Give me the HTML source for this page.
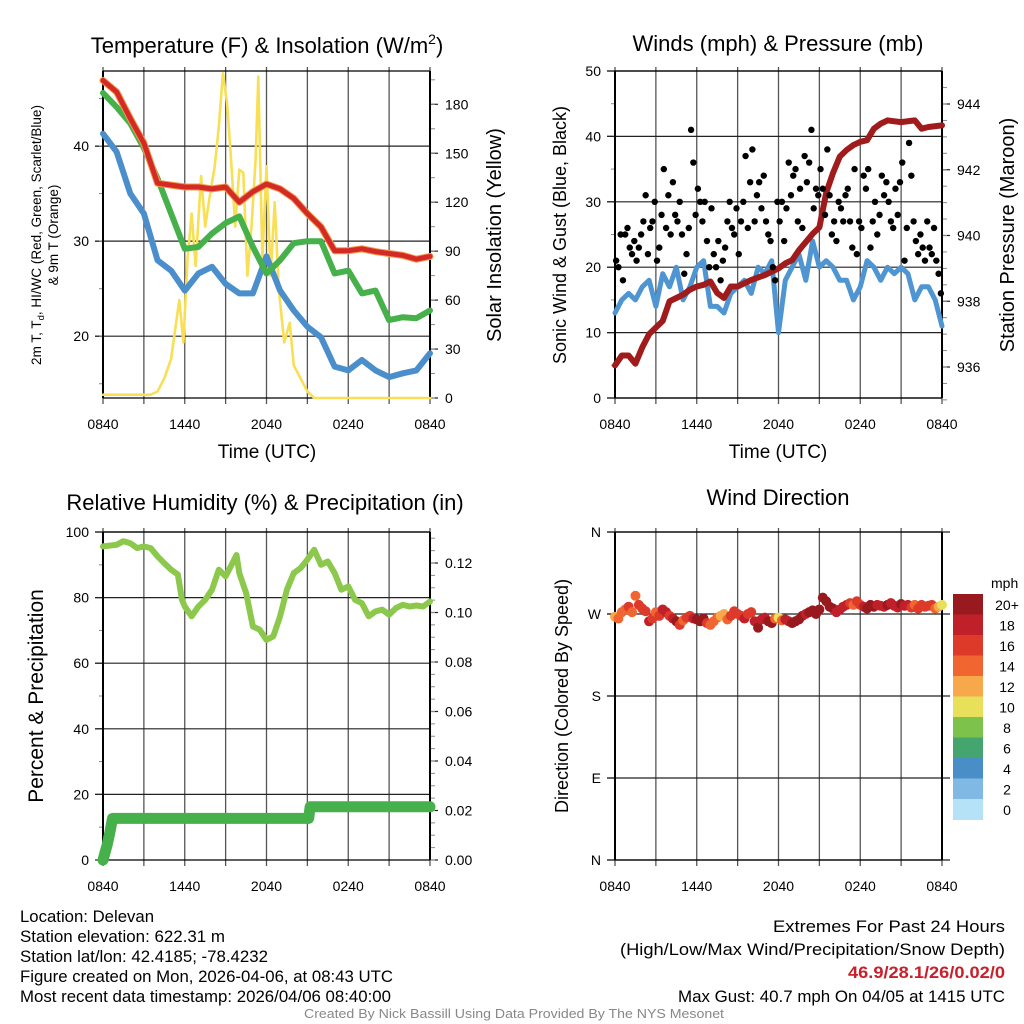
<!DOCTYPE html>
<html><head><meta charset="utf-8">
<style>
body{margin:0;background:#fff;}
svg{display:block;font-family:"Liberation Sans",sans-serif;}
.nar{font-family:"Liberation Sans Narrow","Liberation Sans",sans-serif;}
</style></head>
<body>
<svg id="chart" width="1024" height="1024" viewBox="0 0 1024 1024" xmlns="http://www.w3.org/2000/svg">
<g id="static">
<text x="267" y="53" font-size="22" text-anchor="middle">Temperature (F) &amp; Insolation (W/m<tspan font-size="14" dy="-9">2</tspan><tspan dy="9">)</tspan></text>
<text x="778" y="51" font-size="22" text-anchor="middle">Winds (mph) &amp; Pressure (mb)</text>
<text x="265" y="510" font-size="22" text-anchor="middle">Relative Humidity (%) &amp; Precipitation (in)</text>
<text x="778" y="505" font-size="22" text-anchor="middle">Wind Direction</text>

<text transform="translate(41,235) rotate(-90)" font-size="13.5" text-anchor="middle">2m T, T<tspan font-size="9.5" dy="3">d</tspan><tspan dy="-3">, HI/WC (Red, Green, Scarlet/Blue)</tspan></text>
<text transform="translate(58,235) rotate(-90)" font-size="13.5" text-anchor="middle">&amp; 9m T (Orange)</text>
<text transform="translate(501,235) rotate(-90)" font-size="20" text-anchor="middle">Solar Insolation (Yellow)</text>
<text x="267" y="458" font-size="19" text-anchor="middle">Time (UTC)</text>
<text transform="translate(566,235) rotate(-90)" font-size="18" text-anchor="middle">Sonic Wind &amp; Gust (Blue, Black)</text>
<text transform="translate(1014,235) rotate(-90)" font-size="20" text-anchor="middle">Station Pressure (Maroon)</text>
<text x="778" y="458" font-size="19" text-anchor="middle">Time (UTC)</text>
<text transform="translate(43,696) rotate(-90)" font-size="21" text-anchor="middle">Percent &amp; Precipitation</text>
<text transform="translate(568,696) rotate(-90)" font-size="18" text-anchor="middle">Direction (Colored By Speed)</text>

<g class="nar" font-size="17">
<text x="20" y="922" textLength="134" lengthAdjust="spacingAndGlyphs">Location: Delevan</text>
<text x="20" y="942" textLength="205" lengthAdjust="spacingAndGlyphs">Station elevation: 622.31 m</text>
<text x="20" y="962" textLength="248" lengthAdjust="spacingAndGlyphs">Station lat/lon: 42.4185; -78.4232</text>
<text x="20" y="982" textLength="373" lengthAdjust="spacingAndGlyphs">Figure created on Mon, 2026-04-06, at 08:43 UTC</text>
<text x="20" y="1002" textLength="371" lengthAdjust="spacingAndGlyphs">Most recent data timestamp: 2026/04/06 08:40:00</text>
</g>
<g class="nar" font-size="17">
<text x="773" y="932" textLength="232" lengthAdjust="spacingAndGlyphs">Extremes For Past 24 Hours</text>
<text x="620" y="955" textLength="385" lengthAdjust="spacingAndGlyphs">(High/Low/Max Wind/Precipitation/Snow Depth)</text>
<text x="848" y="978" textLength="157" lengthAdjust="spacingAndGlyphs" fill="#c8202a" font-weight="bold">46.9/28.1/26/0.02/0</text>
<text x="678" y="1002" textLength="327" lengthAdjust="spacingAndGlyphs">Max Gust: 40.7 mph On 04/05 at 1415 UTC</text>
</g>
<text class="nar" x="304" y="1018" font-size="12.5" fill="#888" textLength="420" lengthAdjust="spacingAndGlyphs">Created By Nick Bassill Using Data Provided By The NYS Mesonet</text>
</g>
<g id="dyn"></g>
</svg>
<script>
// ---------- data ----------
const xTickLabels = ["0840","1440","2040","0240","0840"];
const tempHours = [0,1,2,3,4,5,6,7,8,9,10,11,12,13,14,15,16,17,18,19,20,21,22,23,24];
const airTemp = [46.9,45.7,42.9,40.3,36.1,35.9,35.7,35.7,35.5,35.7,34.1,35.2,36.0,35.5,34.5,32.9,31.5,29.0,29.0,29.2,28.9,28.7,28.5,28.1,28.4];
const windChill = [45.6,44.1,42.4,39.8,36.6,32.9,29.2,29.4,30.8,31.9,32.6,29.4,26.6,28.0,29.8,30.0,30.0,26.6,26.9,24.5,24.8,21.7,22.0,21.9,22.7];
const dewPoint = [41.3,39.4,35.0,32.9,28.0,26.9,24.8,26.6,27.3,25.5,24.5,24.5,28.4,24.8,22.7,21.0,19.9,16.8,16.4,17.5,16.4,15.7,16.1,16.4,18.2];
const tempTicks = [20,30,40];
const solarTicks = [0,30,60,90,120,150,180];
const solarHours = [0,3.5,4,4.5,5,5.6,5.9,6.2,6.5,6.8,7.2,7.5,7.8,8.2,8.5,8.8,9.1,9.4,9.7,10,10.3,10.6,10.9,11.2,11.4,11.7,12,12.3,12.6,12.9,13.3,13.7,14,14.5,15,15.5,24];
const solarVals = [2,2,4,12,24,60,34,85,113,81,136,105,122,142,166,199,181,146,105,140,138,75,105,146,197,85,142,75,120,67,34,46,20,12,4,0,0];

const windHours = [0,0.5,1,1.5,2,2.5,3,3.5,4,4.5,5,5.5,6,6.5,7,7.5,8,8.5,9,9.5,10,10.5,11,11.5,12,12.5,13,13.5,14,14.5,15,15.5,16,16.5,17,17.5,18,18.5,19,19.5,20,20.5,21,21.5,22,22.5,23,23.5,24];
const windSpeed = [13,15,16,15,17,18,14,19,17,20,15,17,20,21,14,14,13,16,17,18,16,20,19,21,10,18,20,22,18,24,20,21,20,18,18,15,17,21,20,18,20,19,20,19,15,17,17,15,11];
const gustVals = [21,20,25,18,25,26, 23,22,24,21,23,25, 27,31,22,26,27,30, 21,23,28,35,26,31, 25,33,28,27,30,25, 19,22,26,41,36,28, 32,30,27,30,24,20, 29,22,20,24,18,21, 23,27,30,26,25,29, 22,27,30,37,26,33, 38,27,31,33,29,34, 27,25,24,20,18,30, 27,30,24,29,36,31, 34,35,27,32,26,37, 33,36,41,29,32,31, 35,32,28,38,31,25, 27,24,30,29,27,31, 32,27,23,35,22,27, 26,34,32,35,23,27, 30,25,28,34,31,33, 30,27,26,32,28,33, 36,21,26,39,34,27, 24,22,25,23,21,27, 23,22,26,21,19,16];
const pressHours = [0,0.5,1,1.5,2,2.5,3,3.5,4,4.5,5,5.5,6,6.5,7,7.5,8,8.5,9,10,11,12,12.5,13,13.5,14,14.5,15,15.5,16,16.5,17,17.5,18,18.5,19,19.5,20,21,22,22.5,23,24];
const pressVals = [936.05,936.35,936.35,936.1,936.6,937.0,937.2,937.4,938.0,938.1,938.2,938.35,938.45,938.5,938.6,938.25,938.1,938.45,938.45,938.65,938.8,939.0,939.15,939.25,939.55,939.8,940.05,940.25,941.3,941.9,942.4,942.6,942.75,942.85,942.9,943.25,943.4,943.5,943.45,943.5,943.25,943.3,943.35];
const windTicks = [0,10,20,30,40,50];
const pressTicks = [936,938,940,942,944];

const rhHours = [0,1,1.5,2,2.5,3,3.5,4,4.5,5,5.5,5.8,6,6.5,7,7.5,8,8.5,9,9.5,9.8,10,10.5,11,11.5,12,12.5,13,13.5,14,14.5,15,15.5,16,16.5,17,17.5,18,18.5,19,19.5,20,20.5,21,21.5,22,22.5,23,23.5,24];
const rhVals = [95.6,96.1,97.2,96.6,95.1,95.6,95.1,92.6,90.5,88.5,87,79.3,77.3,74.3,77.3,79.3,82.4,88.5,86.5,90.5,93,87.5,81.4,71.2,70.2,67.1,68.2,74.3,82.4,87.5,89,91.6,94.6,90,91,87.5,82.4,83.4,79.3,78.3,74.3,75.8,76.3,74.8,76.8,77.8,77.3,77.6,77.3,78.8];
const precipHours = [0,0.3,0.5,0.7,15.1,15.2,24];
const precipVals = [0,0.006,0.011,0.0168,0.0168,0.0215,0.0215];
const rhTicks = [0,20,40,60,80,100];
const precipTicks = [0,0.02,0.04,0.06,0.08,0.10,0.12];
const precipLabels = ["0.00","0.02","0.04","0.06","0.08","0.10","0.12"];

const dirVals = [267,265,272,275, 278,272,290,280, 276,273,262,265, 272,268,275,272, 268,265,262,258, 263,266,268,265, 264,262,265,260, 258,262,266,268, 270,264,268,273, 270,268,265,270, 272,262,255,264, 266,262,260,265, 266,263,264,262, 260,262,264,268, 270,272,274,270, 275,288,284,278, 276,272,275,278, 280,282,280,284, 280,278,276,280, 278,280,279,278, 280,282,279,277, 281,279,280,277, 280,276,280,278, 279,280,276,278, 280];
const dirTicks = [0,90,180,270,360];
const dirLabels = ["N","E","S","W","N"];
const speedBins = ["0","2","4","6","8","10","12","14","16","18","20+"];
const speedColors = ["#b5e2f7","#7fb9e4","#4a8ec8","#45a56f","#7dc24b","#e8e05a","#f7a84a","#f06530","#dd3a2a","#c0202a","#981a1e"];

// ---------- helpers ----------
const NS="http://www.w3.org/2000/svg";
const dyn=document.getElementById('dyn');
function mk(tag,attrs,parent){const e=document.createElementNS(NS,tag);for(const k in attrs)e.setAttribute(k,attrs[k]);(parent||dyn).appendChild(e);return e;}
function panel(x0,x1,y0,y1){return {x0,x1,y0,y1,xs:h=>x0+h/24*(x1-x0)};}
function lin(d0,d1,p0,p1){return v=>p0+(v-d0)/(d1-d0)*(p1-p0);}
function frame(P,name,leftTicks,leftLabels,ly,rightTicks,rightLabels,ry,leftMinor,rightMinor,gridTicks){
  const g=mk('g',{});
  
  
  for(let i=0;i<=8;i++){const x=P.xs(i*3);
    const l=mk('line',{x1:x,x2:x,y1:P.y0-4,y2:P.y1+6,stroke:'#555','stroke-width':1.3},g);
    
    }
  xTickLabels.forEach((t,i)=>{const tx=mk('text',{x:P.xs(i*6),y:P.y1+31,'font-size':14,'text-anchor':'middle'},g);tx.textContent=t;
    
    });
  gridTicks.forEach(v=>{const y=ly(v);mk('line',{x1:P.x0-8,x2:P.x1+(rightTicks?0:8),y1:y,y2:y,stroke:'#222','stroke-width':1.2},g);});
  leftTicks.forEach((v,i)=>{const y=ly(v);mk('line',{x1:P.x0-8,x2:P.x0,y1:y,y2:y,stroke:'#222','stroke-width':1.2},g);
    const t=mk('text',{x:P.x0-14,y:y+5,'font-size':14,'text-anchor':'end'},g);t.textContent=leftLabels[i];
    
    });
  leftMinor.forEach(v=>{const y=ly(v);mk('line',{x1:P.x0-4,x2:P.x0,y1:y,y2:y,stroke:'#888','stroke-width':1},g);});
  if(rightTicks){
    rightTicks.forEach((v,i)=>{const y=ry(v);mk('line',{x1:P.x1,x2:P.x1+8,y1:y,y2:y,stroke:'#222','stroke-width':1.2},g);
      const t=mk('text',{x:P.x1+15,y:y+5,'font-size':14},g);t.textContent=rightLabels[i];
      
      });
    rightMinor.forEach(v=>{const y=ry(v);mk('line',{x1:P.x1,x2:P.x1+5,y1:y,y2:y,stroke:'#888','stroke-width':1},g);});
  }
  mk('line',{x1:P.x0,x2:P.x0,y1:P.y0,y2:P.y1,stroke:'#000','stroke-width':2},g);
  mk('line',{x1:P.x1,x2:P.x1,y1:P.y0,y2:P.y1,stroke:'#000','stroke-width':2},g);
  mk('line',{x1:P.x0,x2:P.x1,y1:P.y0,y2:P.y0,stroke:'#000','stroke-width':1.3},g);
  mk('line',{x1:P.x0,x2:P.x1,y1:P.y1,y2:P.y1,stroke:'#000','stroke-width':1.3},g);
}
function path(P,hs,vs,ys,color,w,name){
  let d='';hs.forEach((h,i)=>{const x=P.xs(h),y=ys(vs[i]);d+=(i?'L':'M')+x.toFixed(1)+' '+y.toFixed(1);});
  const p=mk('path',{d,fill:'none',stroke:color,'stroke-width':w,'stroke-linejoin':'round','stroke-linecap':'round'});
  
  
  return p;
}
function range(a,b,s){const r=[];for(let v=a;v<=b+1e-9;v+=s)r.push(+v.toFixed(4));return r;}

// ---------- panel 1: temperature ----------
const P1=panel(103,430,71,398);
const tY=lin(13.5,47.9,398,71), sY=lin(0,180,398,104.3);
frame(P1,'temp',tempTicks,tempTicks.map(String),tY,solarTicks,solarTicks.map(String),sY,range(15,45,5),range(0,195,15),tempTicks);
path(P1,solarHours,solarVals,sY,'#f8df55',2.6,'solar-line');
path(P1,tempHours,dewPoint,tY,'#4a8fcb',6,'dewpoint-line');
path(P1,tempHours,windChill,tY,'#46b04a',6,'windchill-line');
path(P1,tempHours,airTemp,tY,'#f39a4a',7,'9m-temp-line');
path(P1,tempHours,airTemp,tY,'#d42a26',5,'air-temp-line');

// ---------- panel 2: winds ----------
const P2=panel(615,942,71,398);
const wY=lin(0,50,398,71), pY=lin(936,944,367,104);
frame(P2,'wind',windTicks,windTicks.map(String),wY,pressTicks,pressTicks.map(String),pY,range(5,45,10),range(935,944.5,0.5),windTicks);
path(P2,windHours,windSpeed,wY,'#4e95d2',5,'wind-speed-line');
path(P2,pressHours,pressVals,pY,'#a01c1c',6,'pressure-line');
gustVals.forEach((v,i)=>{const c=mk('circle',{cx:P2.xs(i/6+1/12),cy:wY(v),r:3.2,fill:'#000'});
  
  });

// ---------- panel 3: RH ----------
const P3=panel(103,430,532,860);
const rY=lin(0,100,860,532), qY=lin(0,0.12,860,563);
frame(P3,'rh',rhTicks,rhTicks.map(String),rY,precipTicks,precipLabels,qY,range(10,90,20),range(0,0.13,0.005),rhTicks.slice(1));
path(P3,rhHours,rhVals,rY,'#8cc84b',6,'rh-line');
path(P3,precipHours,precipVals,qY,'#46b04a',11,'precip-line');

// ---------- panel 4: direction ----------
const P4=panel(615,942,532,860);
const dY=lin(0,360,860,532);
frame(P4,'dir',dirTicks,dirLabels,dY,null,null,null,[],[],dirTicks);
function interp(hs,vs,h){for(let i=1;i<hs.length;i++){if(h<=hs[i]){const t=(h-hs[i-1])/(hs[i]-hs[i-1]);return vs[i-1]+t*(vs[i]-vs[i-1]);}}return vs[vs.length-1];}
dirVals.forEach((v,i)=>{const h=i*0.25;const s=interp(windHours,windSpeed,h);
  const idx=Math.min(10,Math.max(0,Math.floor(s/2)));
  const c=mk('circle',{cx:P4.xs(h),cy:dY(v),r:5,fill:speedColors[idx]});
  
  });
// colorbar
const cb=mk('g',{});


const cbTop=594,cbH=20.5;
speedBins.forEach((b,i)=>{const k=10-i;const y=cbTop+i*cbH;
  mk('rect',{x:953,y:y,width:30,height:cbH+0.5,fill:speedColors[k]},cb);
  const t=mk('text',{x:1007,y:y+16,'font-size':14,'text-anchor':'middle'},cb);t.textContent=speedBins[k];
  
  });
const u=mk('text',{x:991,y:588,'font-size':14},cb);u.textContent='mph';


</script>
</body></html>
